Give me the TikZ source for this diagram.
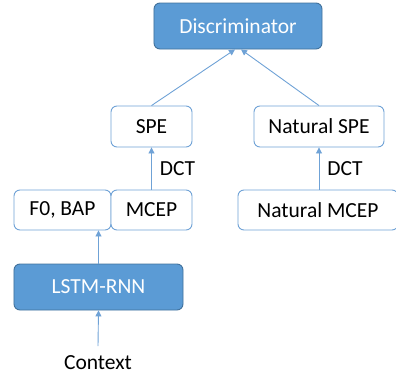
\documentclass[tikz,border=0pt]{standalone}
\usepackage{fontspec}
\setmainfont{Carlito}
\usetikzlibrary{arrows.meta}
\definecolor{boxblue}{HTML}{5B9BD5}
\definecolor{boxedge}{HTML}{41719C}
\definecolor{lineblue}{HTML}{6FA2D6}

\tikzset{
  feat/.style  = {shape=rectangle, rounded corners=6bp, draw=lineblue,
                  line width=0.9bp, fill=white, align=center,
                  font=\fontsize{21.5bp}{26bp}\selectfont, inner sep=0pt},
  netbox/.style = {feat, draw=boxedge, fill=boxblue, text=white},
  flow/.style  = {draw=lineblue, line width=0.9bp,
                  -{Triangle[length=6bp,width=6bp]}}
}

\begin{document}
\begin{tikzpicture}[x=1bp,y=-1bp]
 \useasboundingbox (0,0) rectangle (396,376);

 % networks
 \node [netbox, minimum width=168bp, minimum height=46bp] (disc) at (238,26) {Discriminator};
 \node [netbox, minimum width=169bp, minimum height=46bp] (lstm) at (98.5,287) {LSTM-RNN};

 % features
 \node [feat, minimum width=81bp, minimum height=41bp] (spe)   at (151.5,126.5) {SPE};
 \node [feat, minimum width=130bp, minimum height=41bp] (nspe) at (319,126.5) {Natural SPE};
 \node [feat, minimum width=97bp, minimum height=40bp] (fzero) at (62.5,210) {F0, BAP};
 \node [feat, minimum width=81bp, minimum height=40bp] (mcep)  at (151.5,210) {MCEP};
 \node [feat, minimum width=160bp, minimum height=40bp] (nmcep) at (318,210) {Natural MCEP};

 \node [font=\fontsize{21.5bp}{26bp}\selectfont, inner sep=0pt, outer ysep=9bp, anchor=base] (ctx) at (98,369) {Context};

 % connections
 \draw [flow] (ctx.north) -- (lstm.south);
 \draw [flow] (lstm.north) -- (lstm.north |- fzero.south);
 \draw [flow] (mcep.north) -- (spe.south)
       node [midway, right=8bp, font=\fontsize{21.5bp}{26bp}\selectfont, inner sep=0pt] {DCT};
 \draw [flow] (nmcep.north -| nspe.south) -- (nspe.south)
       node [midway, right=8bp, font=\fontsize{21.5bp}{26bp}\selectfont, inner sep=0pt] {DCT};
 \draw [flow] (spe.north) -- ([xshift=-3bp]disc.south);
 \draw [flow] (nspe.north) -- ([xshift=3bp]disc.south);
\end{tikzpicture}
\end{document}
